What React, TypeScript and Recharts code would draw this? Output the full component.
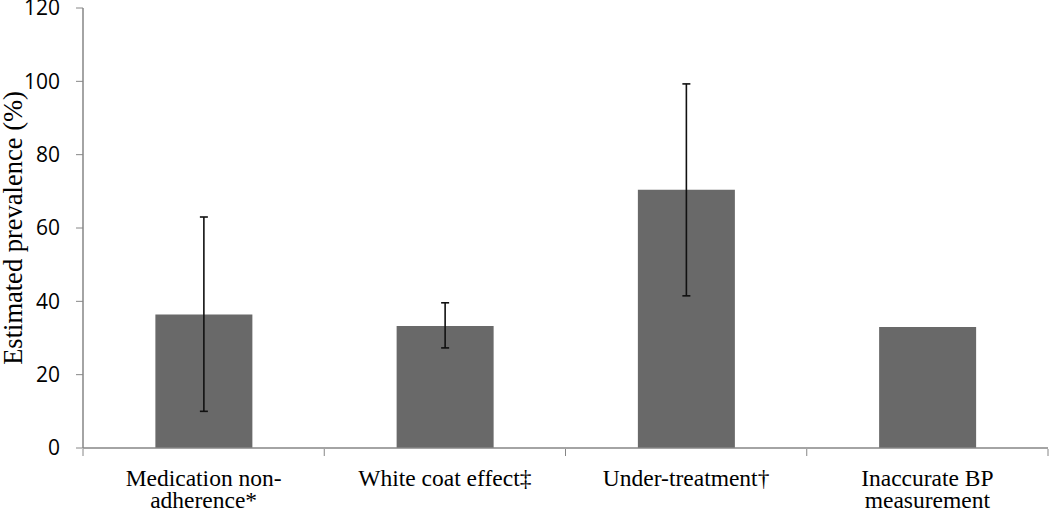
import React from 'react';
import { BarChart, Bar, XAxis, YAxis, ErrorBar } from 'recharts';

const categories = ['Medication non-adherence*', 'White coat effect\u2021', 'Under-treatment\u2020', 'Inaccurate BP measurement'];
const categoryLines = [['Medication non-', 'adherence*'], ['White coat effect\u2021'], ['Under-treatment\u2020'], ['Inaccurate BP', 'measurement']];
const values = [36.4, 33.3, 70.4, 33.0];
const ciLow: (number | null)[] = [10.0, 27.3, 41.5, null];
const ciHigh: (number | null)[] = [63.0, 39.6, 99.3, null];
const yTicks = [0, 20, 40, 60, 80, 100, 120];
const boundaryTicks = [0, 1, 2, 3, 4];

const data = categories.map((name, i) => ({
  name,
  idx: i,
  value: values[i],
  err: ciLow[i] == null || ciHigh[i] == null ? null : [values[i] - (ciLow[i] as number), (ciHigh[i] as number) - values[i]],
}));

const AXIS = '#868686';

const CategoryTick = (props: any) => {
  const { x, y, payload } = props;
  const idx = categories.indexOf(payload.value);
  const lines = categoryLines[idx] || [payload.value];
  return (
    <g>
      {lines.map((ln: string, k: number) => (
        <text key={k} x={x} y={y + 38 + k * 22} textAnchor="middle" fill="#000"
          style={{ fontFamily: '"Liberation Serif", "Times New Roman", serif', fontSize: 23.5 }}>
          {ln}
        </text>
      ))}
    </g>
  );
};

export default function App() {
  return (
    <div style={{ position: 'absolute', left: 0, top: 0, width: 1050, height: 511, background: '#fff' }}>
      <BarChart width={1050} height={511} data={data} margin={{ top: 8, right: 2, left: 0, bottom: 61 }} barCategoryGap="30%">
        <XAxis xAxisId="grid" type="number" dataKey="idx" domain={[0, 4]} ticks={boundaryTicks} allowDataOverflow
          height={1} axisLine={false} tickLine={{ stroke: AXIS, strokeWidth: 1 }} tickSize={7}
          tickFormatter={() => ''} tick={{ fontSize: 1 }} />
        <XAxis dataKey="name" height={1} axisLine={{ stroke: AXIS, strokeWidth: 1.5 }} tickLine={false}
          tickSize={0} tickMargin={0} interval={0} tick={<CategoryTick />} />
        <YAxis width={83} domain={[0, 120]} ticks={yTicks} interval={0}
          axisLine={{ stroke: AXIS, strokeWidth: 1.5 }} tickLine={{ stroke: AXIS, strokeWidth: 1 }} tickSize={7} tickMargin={16}
          tick={{ fill: '#000', fontFamily: '"Open Sans", sans-serif', fontSize: 21 }}
          label={{ value: 'Estimated prevalence (%)', angle: -90, position: 'center', dx: -29,
            style: { fontFamily: '"Liberation Serif", "Times New Roman", serif', fontSize: 26.5, fill: '#000' } }} />
        <Bar dataKey="value" fill="#696969" isAnimationActive={false}>
          <ErrorBar dataKey="err" width={4} stroke="#111" strokeWidth={1.6} direction="y" />
        </Bar>
      </BarChart>
    </div>
  );
}
